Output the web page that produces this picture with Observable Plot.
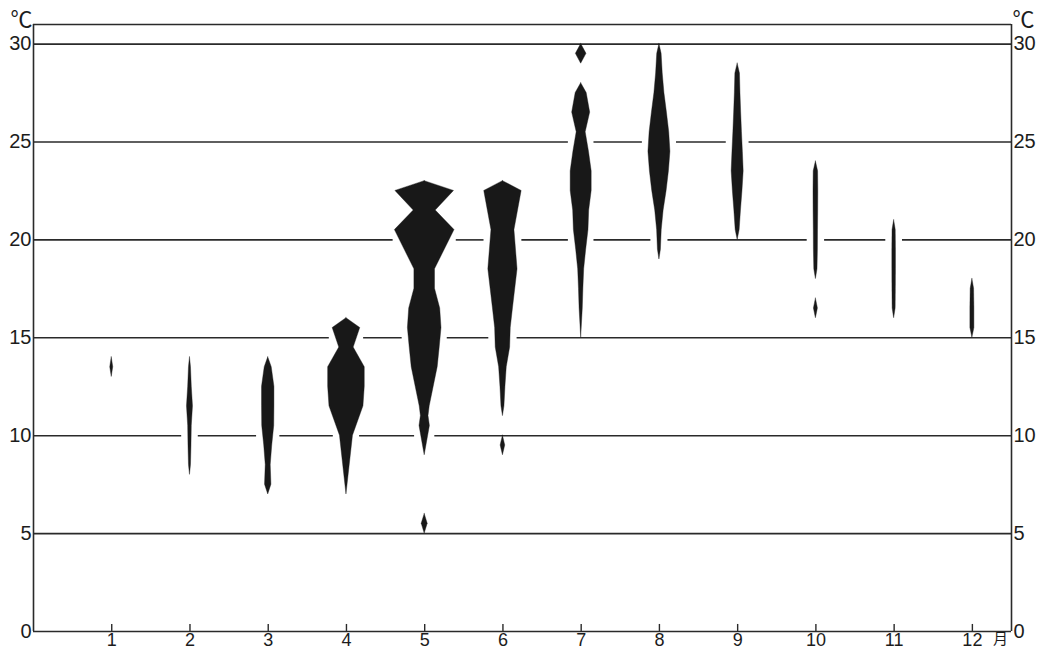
<!DOCTYPE html>
<html><head><meta charset="utf-8">
<script src="https://cdn.jsdelivr.net/npm/d3@7"></script>
<script src="https://cdn.jsdelivr.net/npm/@observablehq/plot@0.6"></script>
<style>body{margin:0;background:#fff}</style>
</head><body><div id="chart"></div>
<script>
// Months (x) and temperature ticks (y)
const months = [1, 2, 3, 4, 5, 6, 7, 8, 9, 10, 11, 12];
const monthLabels = ["1", "2", "3", "4", "5", "6", "7", "8", "9", "10", "11", "12"];
const yTicks = [0, 5, 10, 15, 20, 25, 30];
const gridLevels = [5, 10, 15, 20, 25, 30];

// Kite profiles per month: pieces of [temperature °C, half-width (frequency units)]
const m1 = [[[14, 0], [13.5, 1.5], [13, 0]]];
const m2 = [[[14, 0], [13.5, 1], [12.5, 1.8], [11.5, 3], [10.5, 1.8], [9.5, 1.5], [8.5, 1], [8, 0]]];
const m3 = [[[14, 0], [13.5, 3.5], [12.5, 6.2], [11.5, 6.2], [10.5, 6], [9.5, 4], [8.5, 2.5], [7.5, 3.2], [7, 0]]];
const m4 = [[[16, 0], [15.5, 13.8], [14.5, 7.2], [13.5, 18.3], [12.5, 18.3], [11.5, 17], [10, 6.5], [7, 0]]];
const m5 = [
  [[23, 0], [22.5, 29.3], [21.5, 11], [20.5, 29.8], [18.5, 10.3], [17.5, 10.3], [16.5, 15.5], [15.5, 16.8], [14.5, 15], [13.5, 13], [12.5, 9], [11.5, 5], [11, 3.8], [10.5, 5.2], [9, 0]],
  [[6, 0], [5.5, 3], [5, 0]]
];
const m6 = [
  [[23, 0], [22.5, 18.7], [20.5, 11.5], [18.5, 14.6], [16.5, 10], [15.5, 7.8], [14.5, 7.2], [13.5, 3.8], [12.5, 2.5], [11.5, 1.5], [11, 0]],
  [[10, 0], [9.5, 2.3], [9, 0]]
];
const m7 = [
  [[28, 0], [27.5, 5.5], [26.5, 9], [25.5, 4.5], [24.5, 7.8], [23.5, 10.5], [22.5, 10.5], [21.5, 8], [20.5, 7.3], [19.5, 5], [18.5, 3], [17.5, 2.2], [16.5, 1.6], [15, 0]],
  [[30, 0], [29.5, 5.3], [29, 0]]
];
const m8 = [[[30, 0], [29.5, 2.2], [28.5, 3.3], [27.5, 5], [26.5, 7.5], [25.5, 9.8], [24.5, 11], [23.5, 9.5], [22.5, 7.2], [21.5, 4.2], [20.5, 2.3], [19.5, 1.5], [19, 0]]];
const m9 = [[[29, 0], [28.5, 2.3], [27.5, 2.8], [26.5, 3.5], [25.5, 4.3], [24.5, 5.2], [23.5, 6], [22.5, 4.8], [21.5, 3.3], [20.5, 2], [20, 0]]];
const m10 = [
  [[24, 0], [23.5, 2.2], [22.5, 2.4], [21.5, 2.3], [20.5, 2.1], [19.5, 2], [18.5, 1.6], [18, 0]],
  [[17, 0], [16.5, 2], [16, 0]]
];
const m11 = [[[21, 0], [20.5, 1.6], [19.5, 1.8], [18.5, 1.8], [17.5, 1.7], [16.5, 1.5], [16, 0]]];
const m12 = [[[18, 0], [17.5, 1.7], [16.5, 2], [15.5, 2], [15, 0]]];

const profiles = [m1, m2, m3, m4, m5, m6, m7, m8, m9, m10, m11, m12];
const unit = 1 / 78.24;   // half-width unit expressed in months
const gapPad = 0.085;     // white gap around shapes on grid lines (months)
const xMax = 12.5, yMax = 31;

const rows = [];
profiles.forEach((pcs, i) => pcs.forEach((pts, j) => pts.forEach(([t, w]) =>
  rows.push({month: months[i], id: i + "-" + j, t, w}))));

function halfWidthAt(pts, v) {
  const ts = pts.map(p => p[0]);
  const lo = Math.min(...ts), hi = Math.max(...ts);
  if (!(v > lo && v < hi)) return null;
  const s = pts.slice().sort((a, b) => a[0] - b[0]);
  for (let k = 0; k < s.length - 1; k++) {
    if (v >= s[k][0] && v <= s[k + 1][0]) {
      const f = (v - s[k][0]) / (s[k + 1][0] - s[k][0]);
      return s[k][1] + f * (s[k + 1][1] - s[k][1]);
    }
  }
  return null;
}

const segs = [];
gridLevels.forEach(v => {
  const gaps = [];
  profiles.forEach((pcs, i) => pcs.forEach(pts => {
    const hw = halfWidthAt(pts, v);
    if (hw != null) gaps.push([months[i] - hw * unit - gapPad, months[i] + hw * unit + gapPad]);
  }));
  gaps.sort((a, b) => a[0] - b[0]);
  let start = 0;
  gaps.forEach(([a, b]) => { if (a > start) segs.push({y: v, x1: start, x2: a}); start = Math.max(start, b); });
  if (start < xMax) segs.push({y: v, x1: start, x2: xMax});
});

const ink = "#1c1c1c";
const chart = Plot.plot({
  width: 1038, height: 650,
  marginLeft: 33, marginRight: 27, marginTop: 24, marginBottom: 19,
  x: {domain: [0, xMax]},
  y: {domain: [0, yMax]},
  style: {fontFamily: "'Liberation Sans', Arial, sans-serif", fontSize: "19px", color: ink, background: "#fff"},
  marks: [
    Plot.ruleY(segs, {y: "y", x1: "x1", x2: "x2", stroke: "#2a2a2a", strokeWidth: 1.6}),
    Plot.ruleY([0, yMax], {x1: 0, x2: xMax, stroke: "#2a2a2a", strokeWidth: 1.6}),
    Plot.ruleX([0, xMax], {y1: 0, y2: yMax, stroke: "#2a2a2a", strokeWidth: 1.6}),
    Plot.ruleX(months, {x: d => d, y1: 0, y2: 0.36, stroke: "#2a2a2a", strokeWidth: 1.4}),
    Plot.areaX(rows, {y: "t", x1: d => d.month - d.w * unit, x2: d => d.month + d.w * unit, z: "id",
      fill: "#181818", stroke: "#181818", strokeWidth: 0.4, curve: "linear"}),
    Plot.axisX(months, {tickSize: 0, tickPadding: 2, tickFormat: d => monthLabels[months.indexOf(d)], fontSize: 18}),
    Plot.axisY(yTicks, {anchor: "left", tickSize: 0, tickPadding: 2, fontSize: 20}),
    Plot.axisY(yTicks, {anchor: "right", tickSize: 0, tickPadding: 2, fontSize: 20}),
    Plot.text(["℃"], {x: 0, y: yMax, textAnchor: "end", dx: -1, dy: -5, fontSize: 22,
      fontFamily: "'Noto Sans CJK JP', sans-serif", fill: ink}),
    Plot.text(["℃"], {x: xMax, y: yMax, textAnchor: "start", dx: 1, dy: -5, fontSize: 22,
      fontFamily: "'Noto Sans CJK JP', sans-serif", fill: ink}),
    Plot.text(["月"], {x: 12, y: 0, dx: 28, dy: 8, fontSize: 15,
      fontFamily: "'Noto Sans CJK JP', sans-serif", fill: ink})
  ]
});
document.getElementById("chart").appendChild(chart);
</script>
</body></html>
